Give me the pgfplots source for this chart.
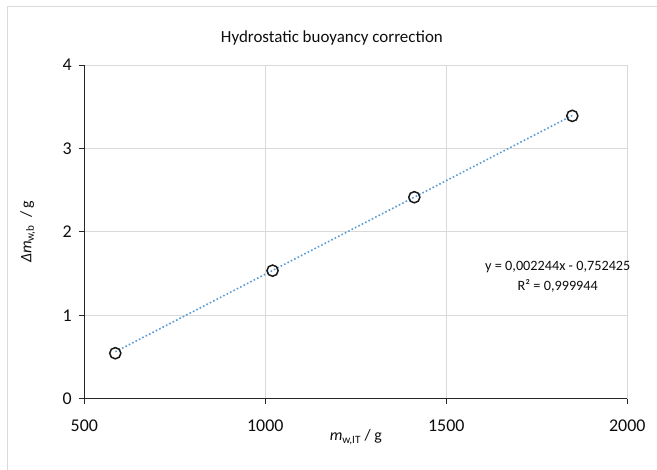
\documentclass[border=0pt]{standalone}
\usepackage{fontspec}
\setmainfont{Carlito}
\usepackage{pgfplots}
\pgfplotsset{compat=1.18}
\definecolor{gridgray}{RGB}{217,217,217}
\definecolor{trendblue}{RGB}{91,155,213}
\definecolor{txt}{RGB}{13,13,13}
\begin{document}
\begin{tikzpicture}[x=1bp,y=1bp]
\useasboundingbox (0,0) rectangle (657,470);
\draw[gridgray, line width=1bp] (7.3,0) -- (7.3,463.7) -- (657,463.7);
\begin{axis}[
  at={(84.3bp,71.3bp)}, anchor=south west,
  scale only axis, width=543bp, height=333.7bp,
  xmin=500, xmax=2000, ymin=0, ymax=4,
  xtick={500,1000,1500,2000}, ytick={0,1,2,3,4},
  axis lines*=left,
  axis line style={black!85, line width=0.9bp},
  tick align=outside,
  major tick length=5bp,
  tick style={black!85, line width=0.9bp},
  grid=major,
  major grid style={gridgray, line width=0.9bp},
  /pgf/number format/assume math mode=true,
  /pgf/number format/set thousands separator={},
  ticklabel style={font=\fontsize{18}{20}\selectfont, text=txt},
  xticklabel style={anchor=center, yshift=-22bp},
  yticklabel style={anchor=east, xshift=-4bp},
  every axis title shift=0pt,
  title={Hydrostatic buoyancy correction},
  title style={font=\fontsize{17}{19}\selectfont, text=txt, anchor=center, at={(axis description cs:0.456,1.081)}},
  xlabel={\textit{m}\textsubscript{w,IT} / g},
  xlabel style={font=\fontsize{16}{18}\selectfont, text=txt, anchor=center, at={(axis description cs:0.5,-0.115)}},
  ylabel={\textit{Δm}\textsubscript{w,b}\ \ / g},
  ylabel style={font=\fontsize{16}{18}\selectfont, text=txt, anchor=center, at={(axis description cs:-0.104,0.5)}},
  clip=false,
]
\addplot[trendblue, line width=1.6bp, dash pattern=on 1.6bp off 2.2bp] coordinates {(585.6,0.562) (1848,3.395)};
\addplot[only marks, mark=o, mark size=5.6bp, mark options={line width=1.5bp, black!90}] coordinates {
(585.6,0.545) (1020,1.535) (1411.6,2.415) (1848,3.39)};
\node[align=center, font=\fontsize{14.3}{19.5}\selectfont, text=txt] at (axis cs:1808,1.46) {y = 0,002244x - 0,752425\\R² = 0,999944};
\end{axis}
\end{tikzpicture}
\end{document}
